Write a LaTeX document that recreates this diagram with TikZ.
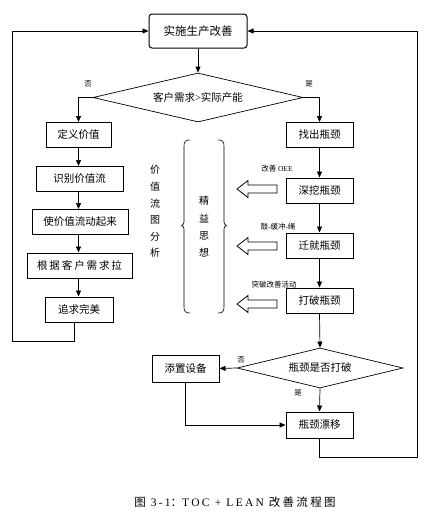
\documentclass[tikz,border=0pt]{standalone}
\usepackage{fontspec}
\setmainfont{Liberation Serif}
\newfontfamily\cjk{Noto Sans CJK SC}
\newfontfamily\cjkw[LetterSpace=18]{Noto Sans CJK SC}
\newfontfamily\capcjk[LetterSpace=20]{Noto Sans CJK SC}
\newfontfamily\caprm[LetterSpace=20]{Liberation Serif}
\usetikzlibrary{shapes.geometric,arrows.meta}
\begin{document}
\begin{tikzpicture}[x=1pt,y=-1pt,
  box/.style={draw, line width=1pt, inner sep=0pt, minimum height=25pt,
    font=\cjk\fontsize{10.5}{12}\selectfont},
  dia/.style={draw, diamond, aspect=4.3, line width=0.7pt, inner sep=0pt,
    font=\cjk\fontsize{10.5}{12}\selectfont},
  arr/.style={-{Triangle[length=6pt,width=5pt]}, line width=0.7pt},
  conn/.style={line width=0.7pt},
  small/.style={font=\cjk\fontsize{7.5}{9}\selectfont, inner sep=0pt},
  vert/.style={align=center, inner sep=0pt},
  hollow/.pic={\draw[line width=0.8pt] (0,0) -- (11,-8.5) -- (11,-4) -- (40,-4) -- (40,4) -- (11,4) -- (11,8.5) -- cycle;}
]
\useasboundingbox (0,0) rectangle (425,512);

% top
\node[box, rounded corners=3pt, minimum width=98pt, minimum height=34pt,
  font=\cjk\fontsize{11.5}{13}\selectfont] (top) at (198,31) {实施生产改善};
\node[dia, minimum width=210pt, minimum height=49pt] (d1) at (198,97.5)
  {客户需求{\rmfamily >}实际产能};
\draw[arr] (top.south) -- (d1.north);
\node[small] (no1) at (88,84) {否};
\node[small] (yes1) at (309,84) {是};

% left column
\node[box, minimum width=65pt] (A1) at (78.5,135) {定义价值};
\node[box, minimum width=87pt] (A2) at (79.5,179) {识别价值流};
\node[box, minimum width=96pt] (A3) at (80,222) {使价值流动起来};
\node[box, minimum width=105pt, font=\cjkw\fontsize{10.5}{12}\selectfont] (A4) at (79.5,265.5) {根据客户需求拉};
\node[box, minimum width=68pt] (A5) at (79,309.5) {追求完美};
\draw[arr] (d1.west) -| (A1.north);
\draw[arr] (A1.south) -- (A1.south |- A2.north);
\draw[arr] (A2.south -| A1.south) -- (A1.south |- A3.north);
\draw[arr] (A3.south -| A1.south) -- (A1.south |- A4.north);
\draw[arr] (A4.south -| A1.south) -- (A1.south |- A5.north);
\coordinate (L1) at (12.5,341);
\draw[arr] ([xshift=-5pt]A5.south) |- (L1) |- (top.west);

% middle texts and braces
\node[vert, font=\cjk\fontsize{10}{16.6}\selectfont] (vsm) at (155,211.5) {价\\值\\流\\图\\分\\析};
\node[vert, font=\cjk\fontsize{10}{17.3}\selectfont] (lean) at (204,227) {精\\益\\思\\想};
\draw[conn, line width=0.6pt] (190,140) .. controls (185.5,140) and (184,141.5) .. (184,146) -- (184,222)
  .. controls (184,224) and (183,225) .. (181.5,225.5) .. controls (183,226) and (184,227) .. (184,229)
  -- (184,307) .. controls (184,311.5) and (185.5,313) .. (190,313);
\draw[conn, line width=0.6pt] (218,140) .. controls (222.5,140) and (224,141.5) .. (224,146) -- (224,222)
  .. controls (224,224) and (225,225) .. (226.5,225.5) .. controls (225,226) and (224,227) .. (224,229)
  -- (224,307) .. controls (224,311.5) and (222.5,313) .. (218,313);

% right column
\node[box, minimum width=67pt] (B1) at (319.5,135) {找出瓶颈};
\node[box, minimum width=67pt] (B2) at (319.5,190.5) {深挖瓶颈};
\node[box, minimum width=67pt] (B3) at (319.5,245.5) {迁就瓶颈};
\node[box, minimum width=67pt] (B4) at (319.5,300.5) {打破瓶颈};
\draw[arr] (d1.east) -| (B1.north);
\draw[arr] (B1.south) -- (B2.north);
\draw[arr] (B2.south) -- (B3.north);
\draw[arr] (B3.south) -- (B4.north);
\node[small] (l1) at (277,169) {改善 {\rmfamily OEE}};
\node[small] (l2) at (278,227) {鼓{\rmfamily -}缓冲{\rmfamily -}绳};
\node[small] (l3) at (274,285) {突破改善活动};
\pic at (237,189) {hollow};
\pic at (237,246) {hollow};
\pic at (237,304) {hollow};

% bottom
\node[dia, minimum width=166pt, minimum height=40pt] (d2) at (320,368) {瓶颈是否打破};
\draw[arr] (B4.south) -- (d2.north);
\node[box, minimum width=67pt, minimum height=27pt] (S1) at (185.5,368.5) {添置设备};
\node[box, minimum width=67pt, minimum height=26pt] (C1) at (319.5,425) {瓶颈漂移};
\draw[arr] (d2.west) -- (S1.east);
\draw[arr] (d2.south) -- (C1.north);
\node[small] (no2) at (241,360) {否};
\node[small] (yes2) at (298,393) {是};
\draw[arr] (S1.south) |- (C1.west);
\coordinate (R1) at (417.5,457);
\draw[arr] (C1.south) |- (R1) |- (top.east);

% caption
\node[inner sep=0pt, font=\fontsize{11.5}{13}\selectfont] (cap) at (235,502)
  {\capcjk 图\ {\caprm 3-1}：{\caprm TOC + LEAN} 改善流程图};
\end{tikzpicture}
\end{document}
